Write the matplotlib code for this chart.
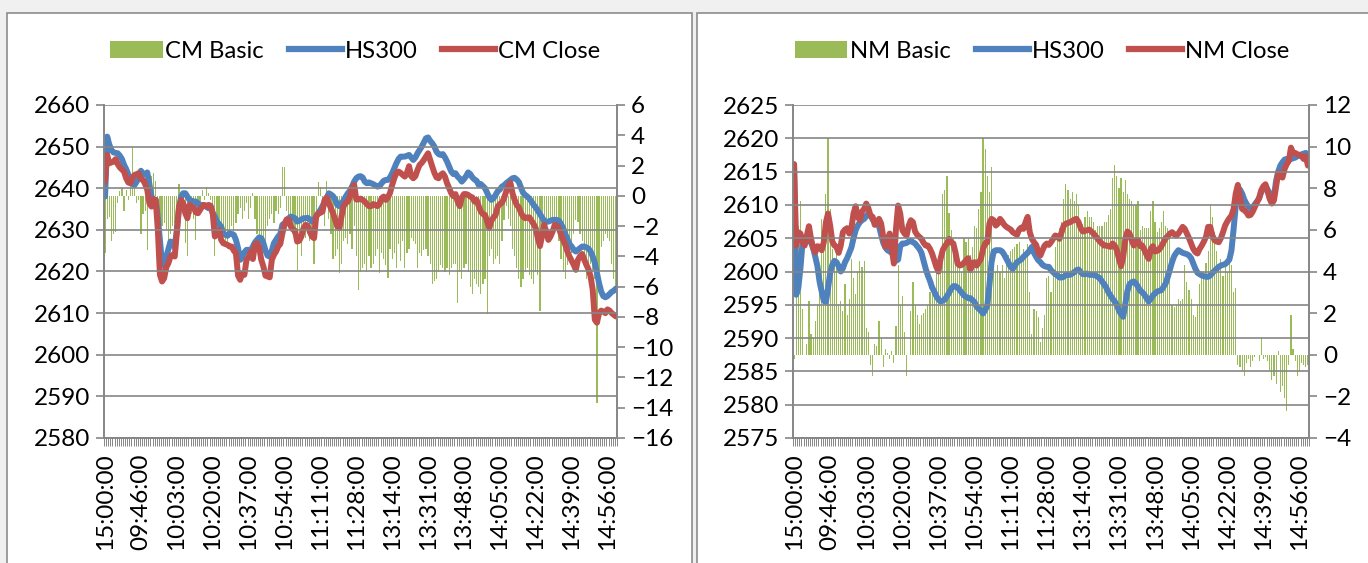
import numpy as np
import matplotlib
matplotlib.use("Agg")
import matplotlib.pyplot as plt
from matplotlib.patches import Rectangle, Patch
from matplotlib.lines import Line2D

plt.rcParams['font.family'] = ['Lato', 'DejaVu Sans']
plt.rcParams['font.size'] = 17.5

# tick labels on the category axis (every 17th minute)
time_labels = ['15:00:00', '09:46:00', '10:03:00', '10:20:00', '10:37:00',
               '10:54:00', '11:11:00', '11:28:00', '13:14:00', '13:31:00',
               '13:48:00', '14:05:00', '14:22:00', '14:39:00', '14:56:00']

# ---- left chart: CM ----
cm_hs300 = [
    2638.0, 2652.4, 2650.5, 2649.2, 2648.6, 2648.5, 2648.4, 2647.8, 2647.0, 2645.6,
    2644.6, 2643.3, 2642.0, 2641.0, 2640.8, 2641.6, 2643.2, 2644.2, 2643.4, 2643.4,
    2643.8, 2641.0, 2638.0, 2637.2, 2637.2, 2633.0, 2627.6, 2622.0, 2621.4, 2623.5,
    2625.4, 2627.2, 2626.8, 2625.8, 2630.0, 2635.0, 2638.0, 2638.8, 2638.8, 2638.0,
    2637.2, 2637.0, 2636.8, 2636.8, 2636.4, 2635.6, 2636.0, 2635.8, 2635.6, 2635.2,
    2635.5, 2634.0, 2633.2, 2632.0, 2631.4, 2630.8, 2629.2, 2628.8, 2628.6, 2629.2,
    2629.0, 2628.8, 2627.6, 2625.6, 2622.8, 2623.4, 2624.6, 2625.2, 2625.2, 2625.0,
    2626.0, 2627.0, 2627.6, 2628.2, 2628.0, 2626.8, 2625.0, 2623.8, 2623.6, 2625.0,
    2626.8, 2627.6, 2628.4, 2629.0, 2631.2, 2631.6, 2632.2, 2632.8, 2633.2, 2633.0,
    2632.8, 2632.0, 2632.2, 2632.5, 2632.8, 2632.8, 2632.9, 2632.5, 2632.0, 2632.4,
    2633.3, 2634.0, 2634.8, 2635.7, 2636.8, 2637.7, 2638.8, 2638.5, 2638.1, 2637.3,
    2636.0, 2635.7, 2636.4, 2637.0, 2638.0, 2638.8, 2639.4, 2640.4, 2641.6, 2642.4,
    2642.8, 2642.9, 2642.6, 2641.6, 2641.2, 2641.4, 2641.2, 2641.0, 2640.7, 2640.4,
    2640.5, 2641.2, 2641.8, 2642.0, 2642.0, 2642.6, 2643.6, 2644.8, 2646.0, 2647.0,
    2647.6, 2647.6, 2647.6, 2647.8, 2648.0, 2647.4, 2646.8, 2647.4, 2648.4, 2649.2,
    2650.0, 2651.0, 2652.0, 2652.2, 2651.4, 2650.8, 2650.0, 2648.8, 2648.2, 2648.0,
    2648.2, 2647.4, 2646.4, 2645.2, 2644.0, 2643.4, 2643.6, 2642.8, 2642.3, 2641.6,
    2642.2, 2642.9, 2643.8, 2643.4, 2642.6, 2642.1, 2641.8, 2640.8, 2641.0, 2640.5,
    2640.0, 2638.9, 2637.8, 2637.2, 2637.6, 2638.4, 2639.3, 2639.7, 2640.4, 2640.7,
    2641.2, 2641.6, 2642.0, 2642.4, 2642.5, 2642.1, 2641.5, 2640.2, 2638.9, 2638.4,
    2638.0, 2637.5, 2636.8, 2636.0, 2635.4, 2634.6, 2633.8, 2633.0, 2632.2, 2631.9,
    2632.0, 2632.2, 2632.4, 2632.4, 2632.4, 2632.2, 2631.4, 2630.4, 2629.0, 2627.8,
    2626.6, 2626.0, 2625.2, 2624.8, 2625.2, 2625.6, 2626.0, 2626.0, 2625.8, 2625.5,
    2624.8, 2623.6, 2622.1, 2619.6, 2617.2, 2615.2, 2614.1, 2613.8, 2614.1, 2614.6,
    2615.1, 2615.4, 2615.9]

cm_close = [
    2641.6, 2648.0, 2646.0, 2646.2, 2646.4, 2647.0, 2645.8, 2645.0, 2644.5, 2644.0,
    2642.4, 2641.4, 2641.2, 2642.6, 2643.2, 2643.4, 2643.6, 2642.2, 2642.0, 2641.0,
    2639.6, 2636.4, 2635.6, 2637.4, 2637.2, 2630.0, 2619.2, 2617.6, 2618.4, 2621.0,
    2622.0, 2623.6, 2624.0, 2623.6, 2629.2, 2635.5, 2637.2, 2636.4, 2634.0, 2632.8,
    2636.0, 2635.6, 2635.4, 2634.2, 2634.0, 2634.8, 2635.6, 2636.0, 2635.6, 2636.0,
    2635.8, 2634.0, 2628.4, 2629.4, 2630.0, 2627.6, 2626.8, 2626.6, 2626.4, 2626.0,
    2626.0, 2625.0, 2624.4, 2619.0, 2618.0, 2619.6, 2619.2, 2622.8, 2623.4, 2624.8,
    2623.0, 2626.4, 2626.8, 2625.8, 2622.8, 2621.2, 2619.0, 2618.8, 2618.6, 2622.8,
    2624.0, 2624.8, 2626.0, 2626.6, 2629.2, 2631.2, 2632.5, 2632.5, 2630.8, 2630.1,
    2629.8, 2627.2, 2627.4, 2628.4, 2630.4, 2631.2, 2631.0, 2629.6, 2628.4, 2628.0,
    2633.2, 2634.0, 2634.1, 2634.4, 2637.2, 2637.8, 2636.4, 2635.2, 2634.0, 2632.4,
    2630.8, 2630.4, 2633.2, 2635.7, 2636.5, 2636.8, 2638.0, 2640.2, 2640.8, 2637.3,
    2637.3, 2637.5, 2637.2, 2636.8, 2636.2, 2635.7, 2635.7, 2636.2, 2636.0, 2635.7,
    2636.2, 2637.6, 2638.0, 2637.2, 2637.8, 2638.9, 2640.8, 2642.4, 2643.7, 2644.0,
    2643.7, 2643.2, 2642.8, 2643.7, 2645.3, 2642.9, 2642.4, 2642.9, 2644.4, 2645.6,
    2646.1, 2646.8, 2647.6, 2648.4, 2646.8, 2645.2, 2643.7, 2642.6, 2642.4, 2643.2,
    2643.6, 2642.8, 2641.2, 2640.0, 2638.8, 2638.1, 2638.6, 2636.8, 2635.7, 2637.8,
    2638.6, 2638.6, 2638.4, 2638.0, 2637.8, 2636.8, 2637.2, 2635.7, 2634.4, 2633.8,
    2633.6, 2632.0, 2630.4, 2632.2, 2633.0, 2633.6, 2635.6, 2636.2, 2636.5, 2637.6,
    2639.2, 2640.4, 2641.3, 2638.8, 2637.2, 2636.0, 2635.4, 2634.1, 2633.2, 2632.8,
    2633.0, 2633.0, 2632.2, 2631.4, 2630.4, 2628.0, 2626.1, 2628.5, 2631.2, 2629.6,
    2627.6, 2628.4, 2629.6, 2631.2, 2631.0, 2630.4, 2628.8, 2627.6, 2626.4, 2624.8,
    2623.6, 2622.6, 2621.6, 2620.4, 2622.8, 2623.7, 2624.2, 2622.8, 2621.6, 2620.5,
    2618.8, 2615.6, 2608.4, 2607.7, 2610.0, 2610.6, 2610.4, 2610.0, 2610.9, 2610.6,
    2610.0, 2609.6, 2609.2]

cm_basic = [
    -3.8, -1.5, -1.4, -3.0, -2.5, -2.4, -0.5, 0.3, 0.5, -1.0,
    0.4, -0.3, 0.8, 3.2, 1.0, -0.5, -0.3, -2.5, -1.2, -1.0,
    -3.6, 0.8, 1.3, 1.5, 1.0, -2.3, -1.5, -2.0, -1.8, -2.2,
    -2.9, -2.5, -2.0, -1.8, -1.5, 0.8, -1.0, -1.2, -3.1, -4.0,
    -1.0, -1.2, -1.5, -2.9, -1.2, -1.0, 0.4, -0.3, 0.6, 0.2,
    -0.3, -1.5, -4.0, -2.8, -2.5, -2.6, -2.2, -3.0, -3.2, -2.8,
    -2.0, -2.5, -1.8, -1.2, -0.8, -1.5, -1.0, -0.5, -1.5, -0.8,
    0.2, -1.5, -2.5, -2.8, -3.0, -2.7, -3.3, -2.0, -1.5, -1.2,
    -1.8, -1.0, -1.2, -0.8, 1.9, 1.9, -1.0, -1.5, -2.0, -2.5,
    -3.0, -4.9, -2.5, -4.0, -2.0, -2.8, -2.5, -3.0, -2.2, -4.5,
    -1.0, 0.9, 0.6, -0.5, -2.0, 1.0, -1.5, -2.5, -4.2, -4.0,
    -3.5, -5.1, -4.5, -3.0, -2.8, -3.2, -2.5, -3.5, -2.0, -4.0,
    -6.2, -5.0, -4.8, -4.5, -5.0, -4.0, -4.8, -4.5, -4.0, -3.5,
    -5.1, -3.8, -4.2, -4.6, -5.4, -3.5, -4.2, -3.8, -4.8, -3.2,
    -4.3, -3.0, -4.8, -3.8, -3.5, -2.8, -3.0, -3.2, -4.8, -3.8,
    -4.0, -3.6, -3.5, -4.0, -4.5, -5.8, -5.6, -5.5, -5.0, -4.6,
    -4.8, -5.0, -4.8, -5.2, -4.8, -4.5, -4.5, -7.1, -5.0, -5.5,
    -4.8, -4.5, -5.0, -6.0, -6.5, -5.5, -5.8, -6.0, -6.5, -5.8,
    -5.5, -7.8, -4.0, -3.5, -4.5, -4.2, -4.0, -4.5, -3.0, -1.6,
    -0.7, -1.5, -2.0, -3.5, -4.0, -4.8, -5.5, -6.0, -5.5, -5.0,
    -4.8, -5.2, -5.5, -5.8, -5.0, -5.2, -7.6, -3.2, -2.8, -2.0,
    -1.6, -1.8, -1.5, -2.0, -1.4, -3.0, -4.2, -5.0, -5.5, -4.6,
    -4.0, -3.8, -2.5, -1.6, -1.7, -2.5, -3.0, -4.0, -5.5, -4.8,
    -4.5, -5.0, -5.5, -13.7, -5.0, -3.4, -3.0, -2.5, -2.8, -3.0,
    -4.5, -5.5, -6.0]

# ---- right chart: NM ----
nm_hs300 = [
    2616.1, 2596.5, 2597.5, 2600.5, 2604.4, 2604.6, 2604.6, 2604.5, 2604.4, 2603.5,
    2602.2, 2600.8, 2598.5, 2597.0, 2595.6, 2595.4, 2597.5, 2599.8, 2601.0, 2601.6,
    2601.4, 2600.8, 2600.0, 2600.5, 2601.4, 2602.0, 2602.8, 2603.6, 2605.0, 2606.2,
    2606.9, 2607.4, 2607.7, 2607.9, 2608.3, 2608.7, 2608.4, 2607.8, 2607.4, 2607.5,
    2606.8, 2605.5, 2604.3, 2603.6, 2603.2, 2603.0, 2602.9, 2602.3, 2601.6, 2601.8,
    2603.8, 2604.2, 2604.2, 2604.3, 2604.5, 2604.6, 2604.4, 2604.2, 2603.8, 2603.4,
    2602.8, 2601.6, 2600.4, 2599.4, 2598.6, 2597.6, 2597.0, 2596.3, 2595.8, 2595.5,
    2595.6, 2595.8, 2596.3, 2596.8, 2597.4, 2597.8, 2597.8, 2597.6, 2597.2, 2596.8,
    2596.4, 2596.2, 2596.0, 2596.0, 2595.7, 2595.4, 2594.7, 2594.4, 2594.1, 2593.7,
    2594.2, 2594.9, 2598.0, 2601.4, 2603.0, 2603.2, 2603.2, 2603.2, 2603.0, 2602.5,
    2601.9, 2601.3, 2600.7, 2600.4, 2600.9, 2601.4, 2601.6, 2601.8, 2602.2, 2602.5,
    2602.8, 2603.2, 2603.7, 2602.8, 2602.2, 2601.7, 2601.4, 2601.0, 2600.8, 2600.7,
    2600.7, 2600.2, 2599.9, 2599.6, 2599.4, 2599.1, 2599.1, 2599.2, 2599.5, 2599.5,
    2599.5, 2599.7, 2599.9, 2600.2, 2600.3, 2599.9, 2599.6, 2599.6, 2599.7, 2599.5,
    2599.5, 2599.5, 2599.4, 2599.2, 2599.0, 2598.5, 2598.1, 2597.6, 2596.9, 2596.4,
    2595.9, 2595.5, 2595.0, 2594.1, 2593.6, 2593.2, 2595.2, 2597.1, 2598.1, 2598.4,
    2598.5, 2598.2, 2597.7, 2597.1, 2596.9, 2596.5, 2596.0, 2595.5, 2595.9, 2596.4,
    2596.7, 2597.0, 2597.1, 2597.2, 2597.7, 2598.2, 2599.2, 2600.3, 2601.4, 2602.3,
    2602.8, 2603.2, 2603.0, 2602.8, 2602.7, 2602.6, 2602.4, 2602.0, 2601.2, 2600.4,
    2599.8, 2599.6, 2599.4, 2599.3, 2599.2, 2599.2, 2599.4, 2599.8, 2600.1, 2600.4,
    2600.7, 2600.9, 2601.0, 2601.1, 2601.4, 2601.8, 2603.2, 2606.4, 2609.8, 2612.5,
    2612.3, 2611.7, 2610.8, 2610.2, 2609.7, 2609.5, 2609.6, 2610.1, 2610.5, 2611.0,
    2611.9, 2612.5, 2612.9, 2612.3, 2611.7, 2610.9, 2611.3, 2613.6, 2615.0, 2615.9,
    2616.4, 2616.8, 2616.9, 2616.9, 2616.9, 2617.0, 2617.1, 2617.3, 2617.4, 2617.6,
    2617.7, 2617.8, 2617.4]

nm_close = [
    2616.1, 2603.9, 2605.9, 2605.7, 2604.5, 2603.9, 2605.4, 2606.8, 2604.9, 2603.5,
    2602.9, 2603.8, 2603.7, 2603.2, 2604.4, 2607.4, 2608.7, 2606.9, 2604.5, 2603.9,
    2603.7, 2602.8, 2603.9, 2605.9, 2606.3, 2606.5, 2605.7, 2606.5, 2608.7, 2609.8,
    2608.2, 2607.7, 2609.0, 2609.4, 2610.2, 2609.5, 2608.4, 2608.2, 2607.0, 2607.3,
    2607.9, 2607.2, 2605.2, 2603.7, 2603.9, 2605.7, 2603.4, 2601.2, 2606.4, 2609.9,
    2608.7, 2606.2, 2605.7, 2605.4, 2606.9, 2607.7, 2607.4, 2606.0, 2605.5, 2605.2,
    2604.9, 2604.3, 2603.9, 2603.9, 2603.4, 2602.7, 2601.7, 2600.7, 2600.0, 2601.9,
    2603.2, 2603.8, 2604.2, 2604.9, 2604.4, 2604.2, 2602.9, 2601.2, 2600.9, 2601.0,
    2601.3, 2601.7, 2602.0, 2600.2, 2601.2, 2601.4, 2600.9, 2601.4, 2601.9, 2603.4,
    2604.2, 2604.4, 2607.2, 2607.9, 2607.7, 2606.9, 2607.2, 2607.9, 2607.5, 2607.0,
    2606.7, 2606.5, 2606.3, 2605.9, 2605.7, 2605.5, 2606.3, 2606.6, 2606.4, 2607.4,
    2608.2, 2605.9, 2604.9, 2604.4, 2604.0, 2602.9, 2602.4, 2603.2, 2603.9, 2604.2,
    2604.0, 2604.4, 2604.9, 2605.4, 2605.3, 2604.9, 2605.9, 2606.9, 2607.2, 2607.3,
    2607.4, 2607.6, 2607.8, 2607.9, 2607.4, 2606.5, 2606.0, 2606.1, 2606.2, 2606.3,
    2606.0, 2605.7, 2605.3, 2604.9, 2604.5, 2604.2, 2603.9, 2603.9, 2603.8, 2603.7,
    2604.2, 2603.9, 2603.2, 2601.9, 2600.8, 2602.2, 2604.9, 2606.0, 2605.7, 2604.7,
    2603.9, 2604.7, 2604.7, 2603.8, 2603.9, 2603.2, 2602.5, 2601.9, 2603.4, 2603.8,
    2603.0, 2603.1, 2603.3, 2603.8, 2604.4, 2605.0, 2605.3, 2605.7, 2605.9, 2605.6,
    2605.4, 2605.7, 2606.2, 2606.7, 2606.4, 2605.7, 2605.0, 2604.2, 2603.4, 2602.9,
    2602.7, 2603.4, 2603.9, 2604.5, 2605.2, 2606.7, 2606.7, 2605.4, 2604.7, 2604.5,
    2604.4, 2605.0, 2605.9, 2606.9, 2607.5, 2608.0, 2608.4, 2609.4, 2611.7, 2613.0,
    2611.2, 2609.4, 2609.2, 2608.9, 2608.4, 2608.5, 2609.0, 2609.7, 2610.4, 2611.0,
    2612.2, 2612.8, 2613.1, 2612.0, 2610.9, 2610.2, 2610.7, 2612.8, 2614.8, 2614.5,
    2614.1, 2615.4, 2616.1, 2616.6, 2618.6, 2617.8, 2617.8, 2617.6, 2617.5, 2617.3,
    2616.9, 2617.3, 2615.9]

nm_basic = [
    -0.2, 5.6, 6.2, 7.4, 2.2, 0.0, 0.5, 2.6, 1.0, 0.8,
    1.6, 2.4, 4.0, 6.5, 5.9, 7.7, 10.4, 7.0, 5.1, 4.3,
    5.1, 2.4, 2.6, 2.1, 3.4, 1.9, 2.7, 4.6, 3.7, 2.9,
    4.0, 4.5, 4.2, 4.5, 1.3, 1.1, -0.5, -1.0, 0.5, 0.4,
    1.6, 0.8, -0.6, 0.3, 0.1, -0.2, 0.2, -0.4, 1.4, 4.3,
    2.4, 2.8, 1.1, -1.0, 0.0, 2.1, 3.5, 2.4, 1.9, 1.5,
    1.9, 2.0, 2.2, 2.4, 3.0, 3.3, 3.3, 4.0, 4.3, 4.8,
    7.7, 7.9, 8.6, 6.8, 6.0, 5.6, 4.8, 4.9, 4.6, 4.0,
    5.6, 5.4, 5.6, 4.8, 5.2, 6.2, 6.1, 7.0, 7.8, 10.4,
    9.9, 8.6, 7.8, 9.0, 4.3, 4.0, 4.3, 4.0, 4.3, 3.7,
    4.6, 4.8, 5.0, 5.1, 5.2, 5.3, 5.4, 4.8, 5.1, 4.8,
    5.3, 3.0, 1.0, 2.2, 2.1, 1.8, 0.6, 1.3, 1.9, 3.7,
    3.8, 3.0, 3.8, 5.2, 5.6, 6.1, 6.4, 7.5, 8.2, 7.9,
    7.5, 7.8, 7.4, 7.7, 7.2, 6.2, 6.3, 6.6, 6.9, 6.6,
    6.6, 6.4, 6.0, 6.2, 6.2, 6.2, 6.4, 6.4, 6.7, 7.0,
    8.5, 9.1, 8.6, 8.0, 8.5, 7.8, 8.4, 7.7, 7.5, 7.4,
    7.2, 7.2, 7.4, 6.0, 6.2, 6.1, 6.1, 6.1, 6.9, 7.4,
    6.4, 5.9, 6.1, 6.4, 6.9, 6.2, 6.1, 5.6, 2.4, 2.3,
    2.4, 2.7, 2.6, 2.7, 4.3, 3.5, 3.1, 2.7, 1.9, 1.8,
    2.4, 3.4, 3.7, 4.0, 4.4, 5.0, 7.2, 6.6, 5.9, 5.0,
    4.3, 4.6, 3.8, 4.5, 4.0, 4.8, 4.3, 3.0, 3.2, -0.5,
    -0.6, -0.8, -1.0, -0.4, -0.2, -0.6, -0.3, -0.1, 0.0, -0.3,
    0.8, -0.2, -0.1, -0.3, -0.8, -1.2, -1.0, -1.4, 0.2, -1.8,
    -1.5, -2.1, -2.7, -0.5, 1.9, 0.3, -0.3, -1.0, -0.8, -0.4,
    -0.5, -0.6, -0.5]

GREEN = '#9bbb59'
BLUE = '#4f81bd'
RED = '#c0504d'
GRAY = '#868686'

W, H = 1368, 563
fig = plt.figure(figsize=(W / 100, H / 100), dpi=100)
fig.patch.set_facecolor('#f0f0f0')

# chart frames (Excel chart areas)
for x0, x1 in [(7, 692), (697, 1375)]:
    fig.patches.append(Rectangle((x0 / W, -0.05), (x1 - x0) / W, 1.05 - 13 / H,
                                 transform=fig.transFigure, facecolor='white',
                                 edgecolor='#8c8c8c', linewidth=1.2, zorder=0))


def draw_panel(px0, px1, hs300, close, basic, names, lticks, rticks, legend_x):
    n = len(hs300)
    x = np.arange(n)
    ax = fig.add_axes([px0 / W, (H - 438) / H, (px1 - px0) / W, 333 / H])
    ax2 = ax.twinx()
    ax.set_zorder(2)
    ax2.set_zorder(1)
    ax.patch.set_visible(False)
    ax2.patch.set_visible(False)

    ax2.bar(x, basic, width=0.55, color=GREEN, linewidth=0, antialiased=False)
    ax.plot(x, hs300, color=BLUE, lw=4.3, solid_joinstyle='round', solid_capstyle='round')
    ax.plot(x, close, color=RED, lw=4.3, solid_joinstyle='round', solid_capstyle='round')

    ax.set_xlim(-0.5, n - 0.5)
    ax.set_ylim(lticks[0], lticks[-1])
    ax.set_yticks(lticks)
    ax2.set_ylim(rticks[0], rticks[-1])
    ax2.set_yticks(rticks)
    ax.grid(axis='y', color=GRAY, lw=1.2)
    ax.set_axisbelow(False)

    ax.set_xticks(np.arange(0, n, 17))
    ax.set_xticklabels(time_labels, rotation=90)
    ax.set_xticks(np.arange(n + 1) - 0.5, minor=True)
    ax.tick_params(axis='x', which='major', length=0, pad=11)
    ax.tick_params(axis='x', which='minor', length=6, width=0.7, color=GRAY)
    ax.tick_params(axis='y', length=6, width=1.2, color=GRAY, pad=4)
    ax2.tick_params(axis='y', length=6, width=1.2, color=GRAY, pad=4)

    for a in (ax, ax2):
        for s in a.spines.values():
            s.set_color(GRAY)
            s.set_linewidth(1.2)
        a.spines['top'].set_visible(False)

    handles = [Patch(facecolor=GREEN, edgecolor='none'),
               Line2D([], [], color=BLUE, lw=4.5),
               Line2D([], [], color=RED, lw=4.5)]
    fig.legend(handles, names, loc='center', ncol=3, frameon=False,
               bbox_to_anchor=(legend_x / W, 1 - 51 / H), fontsize=17.2,
               handlelength=2.2, handletextpad=0.12, columnspacing=1.05)


draw_panel(104, 617, cm_hs300, cm_close, cm_basic,
           ['CM Basic', 'HS300', 'CM Close'],
           list(range(2580, 2661, 10)), list(range(-16, 7, 2)), 355)
draw_panel(793, 1309, nm_hs300, nm_close, nm_basic,
           ['NM Basic', 'HS300', 'NM Close'],
           list(range(2575, 2626, 5)), list(range(-4, 13, 2)), 1042)

fig.savefig('out.png', dpi=100)
